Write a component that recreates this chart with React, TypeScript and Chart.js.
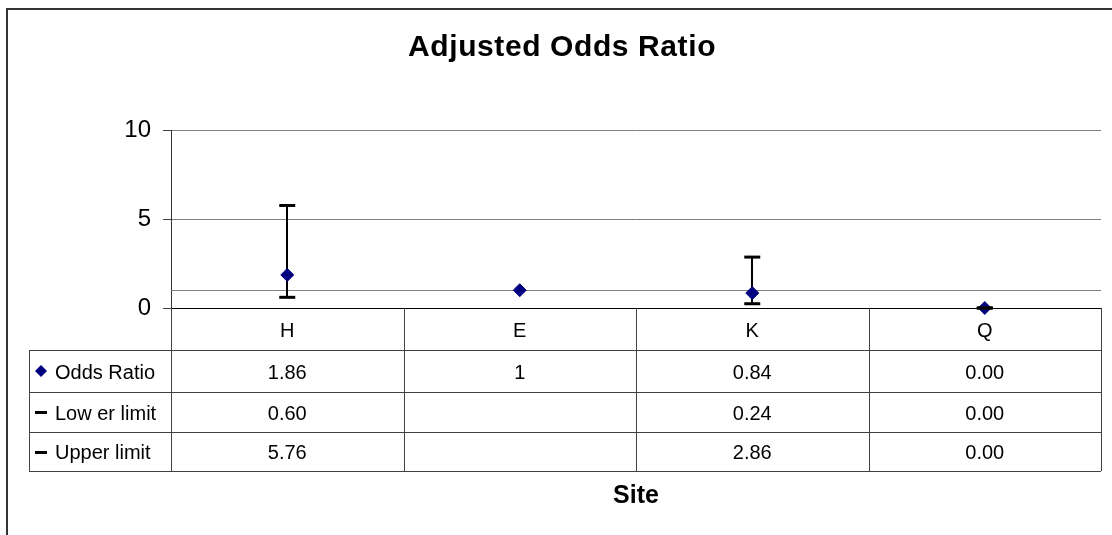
import React, { useEffect, useRef } from "react";
import { Chart, registerables } from "chart.js";

Chart.register(...registerables);

const sites = ["H", "E", "K", "Q"];
const oddsRatio: number[] = [1.86, 1, 0.84, 0.0];
const lowerLimit: (number | null)[] = [0.6, null, 0.24, 0.0];
const upperLimit: (number | null)[] = [5.76, null, 2.86, 0.0];
const yTicks = [0, 5, 10];
const referenceValue = 1;
const seriesNames = ["Odds Ratio", "Low er limit", "Upper limit"];
const chartTitle = "Adjusted Odds Ratio";
const xTitle = "Site";

const FONT = "'Liberation Sans', Arial, sans-serif";
const NAVY = "#000080";

const fmt = (v: number | null) =>
  v === null ? "" : Number.isInteger(v) && v !== 0 ? String(v) : v.toFixed(2);

const tablePlugin = {
  id: "oddsTable",
  beforeDatasetsDraw(chart: any) {
    const { ctx, chartArea: ca, scales } = chart;
    const x = scales.x;
    const y = scales.y;
    ctx.save();
    ctx.strokeStyle = "#808080";
    ctx.lineWidth = 1;
    const ry = Math.round(y.getPixelForValue(referenceValue)) + 0.5;
    ctx.beginPath();
    ctx.moveTo(ca.left, ry);
    ctx.lineTo(ca.right, ry);
    ctx.stroke();
    ctx.strokeStyle = "#000";
    const by = Math.round(ca.bottom) + 0.5;
    ctx.beginPath();
    ctx.moveTo(ca.left, by);
    ctx.lineTo(ca.right, by);
    ctx.stroke();
    ctx.lineWidth = 2;
    sites.forEach((_, i) => {
      const lo = lowerLimit[i];
      const hi = upperLimit[i];
      if (lo === null || hi === null) return;
      const px = Math.round(x.getPixelForValue(i));
      ctx.beginPath();
      ctx.moveTo(px, y.getPixelForValue(lo));
      ctx.lineTo(px, y.getPixelForValue(hi));
      ctx.stroke();
    });
    ctx.restore();
  },
  afterDraw(chart: any) {
    const { ctx, chartArea: ca, scales } = chart;
    const x = scales.x;
    const top = Math.round(ca.bottom);
    const rowEdges = [top, top + 42, top + 84, top + 124, top + 163];
    const legendLeft = 29;
    const n = sites.length;
    const colW = (ca.right - ca.left) / n;
    ctx.save();
    ctx.strokeStyle = "#404040";
    ctx.lineWidth = 1;
    for (let r = 1; r < rowEdges.length; r++) {
      const yy = rowEdges[r] + 0.5;
      ctx.beginPath();
      ctx.moveTo(legendLeft, yy);
      ctx.lineTo(ca.right, yy);
      ctx.stroke();
    }
    for (let c = 0; c <= n; c++) {
      const xx = Math.round(ca.left + c * colW) + 0.5;
      ctx.beginPath();
      ctx.moveTo(xx, rowEdges[0]);
      ctx.lineTo(xx, rowEdges[rowEdges.length - 1]);
      ctx.stroke();
    }
    ctx.beginPath();
    ctx.moveTo(legendLeft + 0.5, rowEdges[1]);
    ctx.lineTo(legendLeft + 0.5, rowEdges[rowEdges.length - 1]);
    ctx.stroke();

    ctx.fillStyle = "#000";
    ctx.font = `20px ${FONT}`;
    ctx.textBaseline = "alphabetic";
    ctx.textAlign = "center";
    const baseline = (r: number) => (rowEdges[r] + rowEdges[r + 1]) / 2 + 7.5;
    sites.forEach((s, i) => {
      const px = x.getPixelForValue(i);
      ctx.fillText(s, px, baseline(0));
      ctx.fillText(fmt(oddsRatio[i]), px, baseline(1));
      ctx.fillText(fmt(lowerLimit[i]), px, baseline(2));
      ctx.fillText(fmt(upperLimit[i]), px, baseline(3));
    });
    ctx.textAlign = "left";
    seriesNames.forEach((name, r) => {
      const mid = (rowEdges[r + 1] + rowEdges[r + 2]) / 2;
      if (r === 0) {
        ctx.fillStyle = NAVY;
        ctx.beginPath();
        ctx.moveTo(41, mid - 6);
        ctx.lineTo(47, mid);
        ctx.lineTo(41, mid + 6);
        ctx.lineTo(35, mid);
        ctx.closePath();
        ctx.fill();
      } else {
        ctx.fillStyle = "#000";
        ctx.fillRect(35, Math.round(mid) - 1, 12, 3);
      }
      ctx.fillStyle = "#000";
      ctx.fillText(name, 55, mid + 7.5);
    });

    ctx.font = `bold 25px ${FONT}`;
    ctx.textAlign = "center";
    ctx.fillText(xTitle, (ca.left + ca.right) / 2, 503);

    ctx.font = `bold 30px ${FONT}`;
    ctx.textAlign = "left";
    (ctx as any).letterSpacing = "0.6px";
    ctx.fillText(chartTitle, 408, 56);
    (ctx as any).letterSpacing = "0px";

    ctx.strokeStyle = "#333";
    ctx.lineWidth = 2;
    ctx.beginPath();
    ctx.moveTo(7, 535);
    ctx.lineTo(7, 9);
    ctx.lineTo(1112, 9);
    ctx.stroke();
    ctx.restore();
  },
};

export default function App() {
  const canvasRef = useRef<HTMLCanvasElement | null>(null);

  useEffect(() => {
    const canvas = canvasRef.current;
    if (!canvas) return;
    const chart = new Chart(canvas, {
      type: "line",
      data: {
        labels: sites,
        datasets: [
          {
            label: seriesNames[1],
            data: lowerLimit,
            showLine: false,
            pointStyle: "line",
            pointRadius: 8,
            pointBorderWidth: 3,
            borderColor: "#000",
            backgroundColor: "#000",
            clip: false,
            order: 0,
          },
          {
            label: seriesNames[2],
            data: upperLimit,
            showLine: false,
            pointStyle: "line",
            pointRadius: 8,
            pointBorderWidth: 3,
            borderColor: "#000",
            backgroundColor: "#000",
            clip: false,
            order: 0,
          },
          {
            label: seriesNames[0],
            data: oddsRatio,
            showLine: false,
            pointStyle: "rectRot",
            pointRadius: 6.5,
            pointBorderWidth: 1,
            borderColor: NAVY,
            backgroundColor: NAVY,
            clip: false,
            order: 1,
          },
        ],
      } as any,
      options: {
        animation: false,
        responsive: false,
        devicePixelRatio: 1,
        layout: { padding: { left: 0, top: 130, right: 9, bottom: 227 } },
        plugins: {
          legend: { display: false },
          title: { display: false },
          tooltip: { enabled: false },
        },
        scales: {
          x: {
            type: "category",
            offset: true,
            display: false,
          },
          y: {
            min: 0,
            max: 10,
            afterFit: (s: any) => {
              s.width = 171;
            },
            afterBuildTicks: (s: any) => {
              s.ticks = yTicks.map((v) => ({ value: v }));
            },
            ticks: {
              color: "#000",
              font: { family: FONT, size: 24 },
              padding: 12,
            },
            grid: {
              color: "#808080",
              lineWidth: 1,
              drawTicks: true,
              tickLength: 8,
              tickColor: "#404040",
            },
            border: { display: true, color: "#333", width: 1 },
          },
        },
      } as any,
      plugins: [tablePlugin],
    });
    return () => chart.destroy();
  }, []);

  return (
    <div style={{ position: "absolute", left: 0, top: 0, width: 1112, height: 535, background: "#fff" }}>
      <canvas ref={canvasRef} width={1112} height={535} />
    </div>
  );
}
